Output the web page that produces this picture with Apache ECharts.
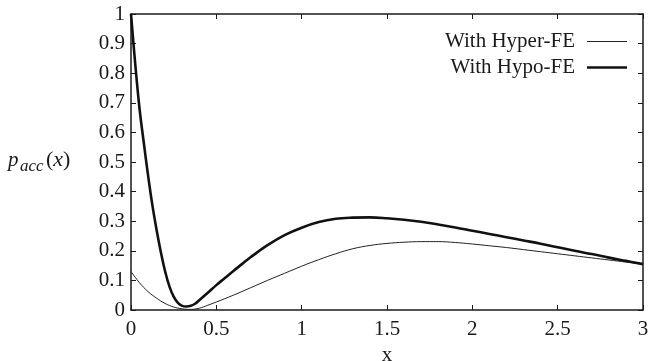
<!DOCTYPE html>
<html>
<head>
<meta charset="utf-8">
<script src="https://cdn.jsdelivr.net/npm/echarts@6/dist/echarts.min.js"></script>
<style>
  html, body { margin: 0; padding: 0; background: #fff; }
  #chart { width: 650px; height: 361px; }
</style>
</head>
<body>
<div id="chart"></div>
<script>
// Acceptance probability p_acc(x) for the two free-energy variants
const xHyper = [0, 0.05, 0.1, 0.15, 0.2, 0.25, 0.3, 0.35, 0.4, 0.45, 0.5, 0.6, 0.7, 0.8, 0.9,
  1.0, 1.1, 1.2, 1.3, 1.4, 1.5, 1.6, 1.7, 1.8, 1.9, 2.0, 2.1, 2.2, 2.3, 2.4, 2.5, 2.6, 2.7, 2.8, 2.9, 3.0];
const yHyper = [0.13, 0.092, 0.062, 0.04, 0.022, 0.01, 0.004, 0.002, 0.006, 0.016, 0.027, 0.05, 0.075, 0.1, 0.124,
  0.148, 0.17, 0.19, 0.207, 0.218, 0.225, 0.229, 0.231, 0.231, 0.228, 0.223, 0.217, 0.211, 0.204, 0.197, 0.19, 0.183, 0.176, 0.169, 0.162, 0.155];

const xHypo = [0, 0.025, 0.05, 0.075, 0.1, 0.125, 0.15, 0.175, 0.2, 0.225, 0.25, 0.275, 0.3, 0.325, 0.35, 0.375, 0.4, 0.45, 0.5,
  0.55, 0.6, 0.65, 0.7, 0.8, 0.9, 1.0, 1.1, 1.2, 1.3, 1.4, 1.5, 1.6, 1.7, 1.8, 1.9, 2.0, 2.1, 2.2, 2.3, 2.4, 2.5, 2.6, 2.7, 2.8, 2.9, 3.0];
const yHypo = [1.0, 0.83, 0.68, 0.565, 0.455, 0.355, 0.27, 0.195, 0.13, 0.08, 0.045, 0.024, 0.014, 0.012, 0.014, 0.021, 0.033, 0.058, 0.084,
  0.108, 0.132, 0.155, 0.178, 0.219, 0.253, 0.278, 0.297, 0.308, 0.312, 0.313, 0.31, 0.305, 0.298, 0.289, 0.279, 0.268, 0.257, 0.246, 0.235, 0.224, 0.212, 0.2, 0.189, 0.177, 0.166, 0.155];

const seriesNames = ['With Hyper-FE', 'With Hypo-FE'];
const xTickLabels = ['0', '0.5', '1', '1.5', '2', '2.5', '3'];
const yTickLabels = ['0', '0.1', '0.2', '0.3', '0.4', '0.5', '0.6', '0.7', '0.8', '0.9', '1'];

const FONT = '"Liberation Serif", "DejaVu Serif", serif';
const INK = '#1a1a1a';
const THIN = 1;
const THICK = 2.6;

function pair(xs, ys) { return xs.map((x, i) => [x, ys[i]]); }

const frameLine = { show: true, onZero: false, lineStyle: { color: INK, width: 1.5 } };
const innerTick = { show: true, inside: true, length: 5, lineStyle: { color: INK, width: 1 } };

const chart = echarts.init(document.getElementById('chart'), null, { renderer: 'canvas' });
chart.setOption({
  animation: false,
  backgroundColor: '#fff',
  grid: { left: 131, right: 7, top: 14, bottom: 51, containLabel: false, outerBoundsMode: 'none' },
  xAxis: [
    {
      type: 'value', min: 0, max: 3, interval: 0.5, position: 'bottom',
      axisLine: frameLine, axisTick: innerTick, splitLine: { show: false },
      axisLabel: {
        margin: 9, color: INK, fontFamily: FONT, fontSize: 21,
        formatter: (v) => xTickLabels[Math.round(v / 0.5)]
      },
      name: 'x', nameLocation: 'middle', nameGap: 32,
      nameTextStyle: { color: INK, fontFamily: FONT, fontSize: 21 }
    },
    {
      type: 'value', min: 0, max: 3, interval: 0.5, position: 'top',
      axisLine: frameLine, axisTick: innerTick, axisLabel: { show: false }, splitLine: { show: false }
    }
  ],
  yAxis: [
    {
      type: 'value', min: 0, max: 1, interval: 0.1, position: 'left',
      axisLine: frameLine, axisTick: innerTick, splitLine: { show: false },
      axisLabel: {
        margin: 6, color: INK, fontFamily: FONT, fontSize: 21,
        formatter: (v) => yTickLabels[Math.round(v * 10)]
      }
    },
    {
      type: 'value', min: 0, max: 1, interval: 0.1, position: 'right',
      axisLine: frameLine, axisTick: innerTick, axisLabel: { show: false }, splitLine: { show: false }
    }
  ],
  legend: {
    orient: 'vertical', right: 23, top: 31, align: 'right', padding: 0,
    itemWidth: 40, itemHeight: 14, itemGap: 5,
    textStyle: { color: INK, fontFamily: FONT, fontSize: 21, padding: [0, 7, 0, 0] },
    data: [
      { name: seriesNames[0], icon: 'path://M0,0H40V' + THIN + 'H0Z' },
      { name: seriesNames[1], icon: 'path://M0,0H40V' + THICK + 'H0Z' }
    ]
  },
  graphic: [
    { type: 'text', left: 8, top: 150, style: { text: 'p', font: 'italic 21px ' + FONT, fill: INK } },
    { type: 'text', left: 20, top: 158, style: { text: 'acc', font: 'italic 17px ' + FONT, fill: INK } },
    {
      type: 'text', left: 46, top: 149,
      style: {
        text: '{n|(}{i|x}{n|)}',
        rich: {
          n: { font: '22px ' + FONT, fill: INK },
          i: { font: 'italic 22px ' + FONT, fill: INK }
        }
      }
    }
  ],
  series: [
    {
      name: seriesNames[0], type: 'line', data: pair(xHyper, yHyper),
      symbol: 'none', smooth: 0.4,
      lineStyle: { color: '#222', width: THIN }, itemStyle: { color: '#222' }
    },
    {
      name: seriesNames[1], type: 'line', data: pair(xHypo, yHypo),
      symbol: 'none', smooth: 0.4,
      lineStyle: { color: '#111', width: THICK }, itemStyle: { color: '#111' }
    }
  ]
});
</script>
</body>
</html>
